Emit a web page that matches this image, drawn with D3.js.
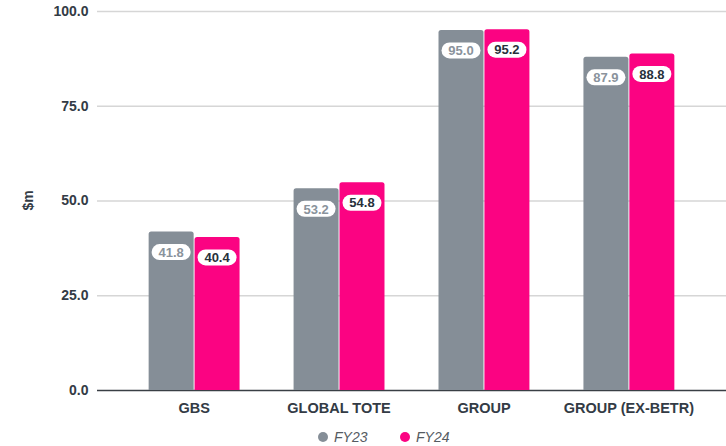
<!DOCTYPE html>
<html>
<head>
<meta charset="utf-8">
<script src="https://cdn.jsdelivr.net/npm/d3@7"></script>
<style>
  html, body { margin: 0; padding: 0; background: #fff; }
  svg { display: block; font-family: "Liberation Sans", Arial, sans-serif; }
</style>
</head>
<body>
<svg id="chart" width="726" height="446"></svg>
<script>
// Adjusted EBITDA by segment, $m
const categories = ["GBS", "GLOBAL TOTE", "GROUP", "GROUP (EX-BETR)"];
const seriesNames = ["FY23", "FY24"];
const fy23 = [41.8, 53.2, 95.0, 87.9];
const fy24 = [40.4, 54.8, 95.2, 88.8];
const yTicks = [0, 25, 50, 75, 100];

const colors = { FY23: "#858e97", FY24: "#fb0382" };
const labelColors = { FY23: "#8a939c", FY24: "#27313b" };

const svg = d3.select("#chart");
const margin = { left: 97, right: 0, top: 11, bottom: 56 };
const W = 726, H = 446;

const x0 = d3.scaleBand()
  .domain(categories)
  .range([margin.left, W - margin.right])
  .paddingInner(0.36)
  .paddingOuter(0.35);

const x1 = d3.scaleBand()
  .domain(seriesNames)
  .range([0, x0.bandwidth()])
  .padding(0.02);

const y = d3.scaleLinear()
  .domain([0, 100])
  .range([H - margin.bottom, margin.top]);

// gridlines
const yAxis = d3.axisLeft(y)
  .tickValues(yTicks)
  .tickFormat(d3.format(".1f"))
  .tickSize(-(W - margin.left - margin.right))
  .tickPadding(8.5);

const gy = svg.append("g")
  .attr("transform", `translate(${margin.left},0)`)
  .call(yAxis);
gy.select(".domain").remove();
gy.selectAll(".tick line")
  .attr("stroke", d => d === 0 ? "#3a3f45" : "#d6d6d6")
  .attr("stroke-width", 1.3);
gy.selectAll(".tick text")
  .attr("fill", "#333b45")
  .attr("font-size", 14)
  .attr("font-weight", 700);

// axis title
svg.append("text")
  .attr("transform", `translate(28,${y(50)}) rotate(-90)`)
  .attr("text-anchor", "middle")
  .attr("dy", "0.35em")
  .attr("fill", "#333b45")
  .attr("font-size", 14)
  .attr("font-weight", 700)
  .text("$m");

const rows = categories.map((c, i) => ({
  cat: c,
  vals: [{ s: "FY23", v: fy23[i] }, { s: "FY24", v: fy24[i] }]
}));

function topRounded(x, yTop, w, h, r) {
  return `M${x},${yTop + h}V${yTop + r}Q${x},${yTop} ${x + r},${yTop}` +
    `H${x + w - r}Q${x + w},${yTop} ${x + w},${yTop + r}V${yTop + h}Z`;
}

const groups = svg.append("g").selectAll("g")
  .data(rows)
  .join("g")
  .attr("transform", d => `translate(${x0(d.cat)},0)`);

groups.selectAll("path")
  .data(d => d.vals)
  .join("path")
  .attr("fill", d => colors[d.s])
  .attr("d", d => topRounded(x1(d.s), y(d.v), x1.bandwidth(), y(0) - y(d.v), 2.5));

// value pills
const pills = groups.selectAll("g.pill")
  .data(d => d.vals)
  .join("g")
  .attr("class", "pill")
  .attr("transform", d => `translate(${x1(d.s) + x1.bandwidth() / 2},${y(d.v) + 20.5})`);

pills.append("rect")
  .attr("x", -19.5).attr("y", -8)
  .attr("width", 39).attr("height", 16)
  .attr("rx", 8)
  .attr("fill", "#fff");

pills.append("text")
  .attr("text-anchor", "middle")
  .attr("dy", "0.36em")
  .attr("font-size", 13)
  .attr("font-weight", 700)
  .attr("fill", d => labelColors[d.s])
  .text(d => d3.format(".1f")(d.v));

// category labels
svg.append("g").selectAll("text")
  .data(categories)
  .join("text")
  .attr("x", d => x0(d) + x0.bandwidth() / 2)
  .attr("y", 412.5)
  .attr("text-anchor", "middle")
  .attr("fill", "#333b45")
  .attr("font-size", 14.5)
  .attr("font-weight", 700)
  .text(d => d);

// legend
const legend = svg.append("g").attr("transform", "translate(0,437)");
const legendX = { FY23: 323, FY24: 405 };
const li = legend.selectAll("g")
  .data(seriesNames)
  .join("g")
  .attr("transform", d => `translate(${legendX[d]},0)`);
li.append("circle").attr("r", 5).attr("cy", 0).attr("fill", d => colors[d]);
li.append("text")
  .attr("x", 11)
  .attr("dy", "0.36em")
  .attr("font-size", 14)
  .attr("font-style", "italic")
  .attr("fill", "#555b62")
  .text(d => d);
</script>
</body>
</html>
